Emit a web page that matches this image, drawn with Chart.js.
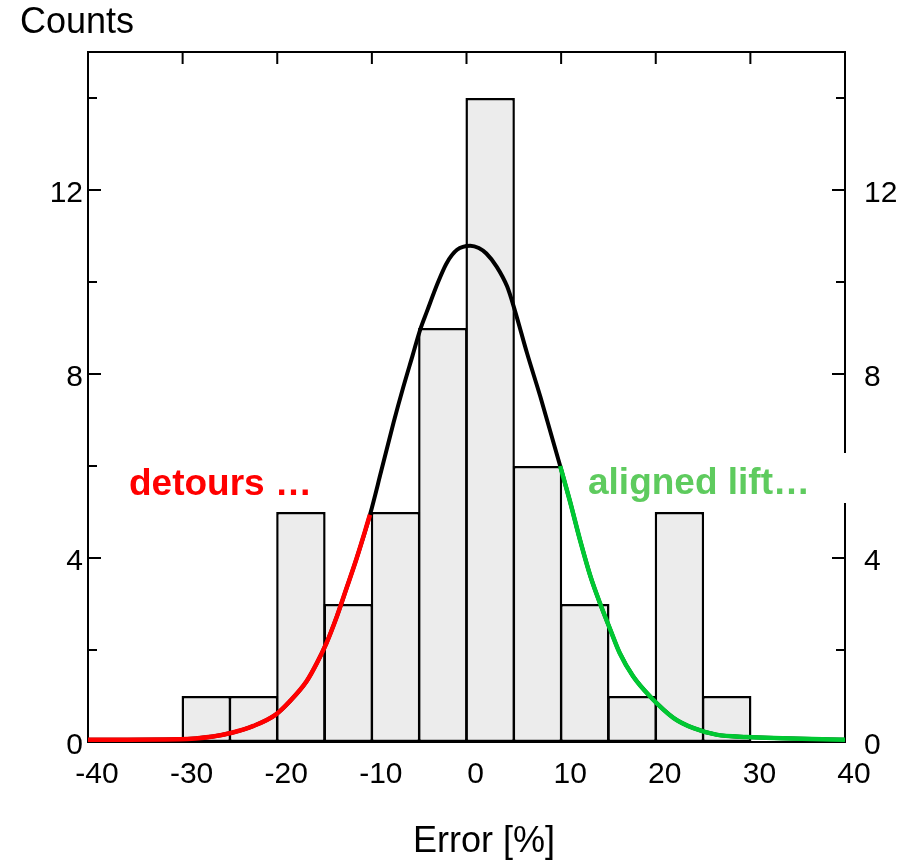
<!DOCTYPE html>
<html>
<head>
<meta charset="utf-8">
<script src="https://cdn.jsdelivr.net/npm/chart.js@4.4.0/dist/chart.umd.min.js"></script>
<style>
  html, body { margin: 0; padding: 0; background: #fff; }
  canvas { display: block; }
</style>
</head>
<body>
<canvas id="errorHistogram" width="916" height="860"></canvas>
<script>
// histogram: bin centres (5 % wide bins) and counts
const binCenters = [-27.5, -22.5, -17.5, -12.5, -7.5, -2.5, 2.5, 7.5, 12.5, 17.5, 22.5, 27.5];
const binCounts = [1, 1, 5, 3, 5, 9, 14, 6, 3, 1, 5, 1];

// fitted curve
const fitX = [-40, -30.3, -26.8, -24.8, -22.5, -20.2, -18.7, -16.9, -15.8, -14.8, -13.7, -12.7, -11.6, -10.2,
              -9.0, -7.7, -6.7, -5.7, -4.9, -4.2, -3.0, -2.1, -1.0, 0.4, 1.3, 2.1, 3.2, 4.3, 5.1, 6.4, 7.8, 9.9,
              10.9, 12.0, 13.1, 14.1, 15.2, 16.2, 17.6, 19.4, 21.9, 24.0, 26.4, 29.6, 40];
const fitY = [0.05, 0.06, 0.12, 0.2, 0.35, 0.59, 0.88, 1.32, 1.72, 2.15, 2.73, 3.33, 4.0, 4.94,
              5.9, 6.95, 7.7, 8.4, 8.96, 9.35, 10.0, 10.41, 10.70, 10.79, 10.74, 10.62, 10.33, 9.9, 9.39, 8.45, 7.51, 6.0,
              5.26, 4.39, 3.6, 3.02, 2.44, 1.93, 1.43, 0.99, 0.52, 0.30, 0.16, 0.11, 0.05];

// coloured tails of the curve
const leftTailEnd = -10.2;
const rightTailStart = 9.9;

// axis ticks
const xTickValues = [-40, -30, -20, -10, 0, 10, 20, 30, 40];
const yTickValues = [0, 2, 4, 6, 8, 10, 12, 14];
const yLabelValues = [0, 4, 8, 12];

const fitPoints = fitX.map((x, i) => ({ x: x, y: fitY[i] }));
const redPoints = fitPoints.filter(p => p.x <= leftTailEnd);
const greenPoints = fitPoints.filter(p => p.x >= rightTailStart);

const FONT = "'Liberation Sans', Arial, Helvetica, sans-serif";

// frame, inward tick marks and the text labels
const framePlugin = {
    id: 'frame',
    beforeDatasetsDraw(chart) {
        const { ctx, chartArea: a, scales } = chart;
        ctx.save();
        ctx.strokeStyle = '#000';
        ctx.lineWidth = 2;
        ctx.strokeRect(a.left, a.top, a.right - a.left, a.bottom - a.top);
        ctx.beginPath();
        xTickValues.forEach(v => {
            if (v <= -40 || v >= 40) return;
            const px = scales.x.getPixelForValue(v);
            ctx.moveTo(px, a.top);
            ctx.lineTo(px, a.top + 12);
        });
        yTickValues.forEach(v => {
            const py = scales.y.getPixelForValue(v);
            const len = v % 4 === 0 ? 13 : 9;
            ctx.moveTo(a.left, py);
            ctx.lineTo(a.left + len, py);
            ctx.moveTo(a.right, py);
            ctx.lineTo(a.right - len, py);
        });
        ctx.stroke();
        ctx.restore();
    },
    afterDraw(chart) {
        const ctx = chart.ctx;
        ctx.save();
        ctx.textBaseline = 'alphabetic';
        ctx.fillStyle = '#000';
        ctx.font = '36px ' + FONT;
        ctx.textAlign = 'left';
        ctx.fillText('Counts', 20, 33);
        ctx.textAlign = 'center';
        ctx.fillText('Error [%]', 484, 852);

        ctx.textAlign = 'left';
        ctx.font = 'bold 37px ' + FONT;
        ctx.fillStyle = '#ff0000';
        ctx.fillText('detours \u2026', 129, 495);

        ctx.fillStyle = '#ffffff';
        ctx.fillRect(580, 453, 275, 50);
        ctx.fillStyle = '#5ecb5e';
        ctx.fillText('aligned lift\u2026', 588, 494);
        ctx.restore();
    }
};

const ctx = document.getElementById('errorHistogram').getContext('2d');
new Chart(ctx, {
    type: 'bar',
    data: {
        datasets: [
            {
                type: 'line',
                data: redPoints,
                borderColor: '#ff0000',
                borderWidth: 4.5,
                pointRadius: 0,
                cubicInterpolationMode: 'monotone',
                order: 1
            },
            {
                type: 'line',
                data: greenPoints,
                borderColor: '#00c832',
                borderWidth: 4.5,
                pointRadius: 0,
                cubicInterpolationMode: 'monotone',
                order: 1
            },
            {
                type: 'line',
                data: fitPoints,
                borderColor: '#000000',
                borderWidth: 4,
                pointRadius: 0,
                cubicInterpolationMode: 'monotone',
                order: 2
            },
            {
                type: 'bar',
                data: binCenters.map((c, i) => ({ x: c, y: binCounts[i] })),
                backgroundColor: '#ececec',
                borderColor: '#000000',
                borderWidth: 2.5,
                borderSkipped: false,
                barPercentage: 1.045,
                categoryPercentage: 1,
                order: 10
            }
        ]
    },
    options: {
        responsive: false,
        animation: false,
        devicePixelRatio: 1,
        layout: { padding: { top: 52, left: 0, right: 0, bottom: 0 } },
        plugins: { legend: { display: false }, tooltip: { enabled: false } },
        scales: {
            x: {
                type: 'linear',
                position: 'bottom',
                min: -40,
                max: 40,
                offset: false,
                grid: { display: false, drawTicks: false },
                border: { display: false },
                afterBuildTicks: s => { s.ticks = xTickValues.map(v => ({ value: v })); },
                afterFit: s => { s.height = 118; },
                ticks: {
                    color: '#000',
                    font: { family: FONT, size: 30 },
                    padding: 15,
                    labelOffset: 9,
                    maxRotation: 0,
                    autoSkip: false
                }
            },
            y: {
                type: 'linear',
                position: 'left',
                min: 0,
                max: 15,
                grid: { display: false, drawTicks: false },
                border: { display: false },
                afterBuildTicks: s => { s.ticks = yTickValues.map(v => ({ value: v })); },
                afterFit: s => { s.width = 88; },
                ticks: {
                    color: '#000',
                    font: { family: FONT, size: 30 },
                    padding: 5,
                    labelOffset: 3.5,
                    autoSkip: false,
                    callback: v => yLabelValues.includes(v) ? String(v) : ''
                }
            },
            y2: {
                type: 'linear',
                position: 'right',
                min: 0,
                max: 15,
                grid: { display: false, drawTicks: false },
                border: { display: false },
                afterBuildTicks: s => { s.ticks = yTickValues.map(v => ({ value: v })); },
                afterFit: s => { s.width = 71; },
                ticks: {
                    color: '#000',
                    font: { family: FONT, size: 30 },
                    padding: 19,
                    labelOffset: 3.5,
                    autoSkip: false,
                    callback: v => yLabelValues.includes(v) ? String(v) : ''
                }
            }
        }
    },
    plugins: [framePlugin]
});
</script>
</body>
</html>
